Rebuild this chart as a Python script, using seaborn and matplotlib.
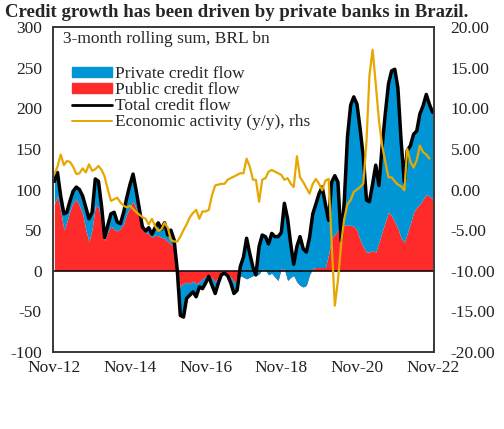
import pandas as pd
import matplotlib
matplotlib.use("Agg")
import matplotlib.pyplot as plt
import matplotlib.dates as mdates
from matplotlib.patches import Patch
from matplotlib.lines import Line2D
from matplotlib.ticker import FuncFormatter
import seaborn as sns

# monthly data, Nov-12 .. Nov-22 (BRL bn, 3-month rolling sum)
months = pd.date_range("2012-11-01", "2022-11-01", freq="MS")

total_flow = [110, 121, 92, 70, 72, 86, 98, 103, 100, 92,
              78, 64, 72, 113, 110, 78, 41, 56, 70, 72,
              60, 58, 72, 90, 106, 119, 98, 75, 54, 49,
              53, 45, 53, 59, 51, 59, 44, 50, 38, 0,
              -55, -57, -34, -30, -26, -32, -20, -22, -15, -7,
              -18, -28, -16, -5, -3, -6, -15, -28, -24, 5,
              17, 40, 21, 4, -5, 30, 44, 42, 33, 46,
              42, 42, 47, 83, 64, 32, 8, 30, 42, 27,
              23, 41, 70, 82, 95, 103, 82, 62, 109, 117,
              109, 37, 85, 165, 204, 214, 205, 175, 140, 87,
              85, 107, 130, 105, 152, 193, 230, 246, 248, 225,
              160, 109, 148, 154, 168, 172, 193, 203, 217, 205,
              195]

public_flow = [82, 92, 74, 50, 60, 74, 84, 88, 80, 70,
               50, 36, 52, 80, 78, 60, 37, 48, 55, 51,
               49, 52, 58, 70, 78, 86, 76, 64, 50, 47,
               46, 41, 44, 43, 41, 40, 36, 33, 31, 0,
               -20, -16, -14, -16, -13, -16, -14, -10, -7, -5,
               -9, -14, -8, -4, -2, -4, -8, -14, -12, -6,
               -8, -10, -8, -6, -6, -4, 2, 1, -5, -3,
               -8, -12, 3, 2, -12, -8, -6, -14, -18, -20,
               -18, -5, 3, 4, 4, 4, 4, 20, 40, 45,
               50, 54, 56, 56, 56, 55, 50, 38, 29, 23,
               23, 25, 23, 35, 48, 60, 72, 68, 60, 52,
               40, 35, 46, 58, 72, 78, 82, 88, 94, 92,
               88]

# economic activity y/y %, rhs (ends one month earlier)
activity = [1.9, 2.8, 4.3, 3.0, 3.5, 3.4, 2.8, 1.9, 2.0, 2.6,
            2.1, 3.1, 2.3, 2.5, 2.9, 2.4, 1.6, 0.0, -1.4, -1.2,
            -1.0, -1.6, -2.0, -2.2, -2.0, -2.4, -2.8, -3.1, -3.4, -3.6,
            -4.3, -3.6, -4.5, -5.1, -4.9, -4.1, -4.7, -6.2, -6.4, -6.4,
            -5.8, -5.0, -4.3, -3.4, -2.9, -2.5, -3.6, -2.7, -2.7, -2.5,
            -0.7, 0.5, 0.6, 0.7, 0.7, 1.2, 1.4, 1.6, 1.8, 2.0,
            2.0, 3.8, 2.8, 1.2, 1.2, -1.5, 1.2, 1.4, 2.2, 2.4,
            2.2, 2.0, 1.8, 1.2, 1.4, 0.7, 0.3, 4.1, 1.5, 0.9,
            0.2, -0.5, 0.7, 1.3, 0.7, -0.1, 1.1, 1.3, -6.5, -14.3,
            -11.2, -6.7, -3.6, -1.8, -1.3, -0.3, 0.0, 0.3, 0.7, 6.0,
            14.0, 17.2, 13.0, 8.5, 5.5, 3.4, 1.5, 1.5, 1.0, 0.6,
            0.4, -0.1, 5.0, 3.4, 2.7, 3.6, 5.4, 4.6, 4.3, 3.8]

df = pd.DataFrame({"date": months, "total": total_flow, "public": public_flow})
df["private"] = df["total"] - df["public"]
act = pd.DataFrame({"date": months[:len(activity)], "activity": activity})

BLUE = "#0096D6"
RED = "#FF2B2B"
ORANGE = "#E6A700"

sns.set_theme(style="white")
plt.rcParams["font.family"] = ["Liberation Serif", "DejaVu Serif"]
plt.rcParams["axes.unicode_minus"] = False

fig = plt.figure(figsize=(5.04, 4.29), dpi=100)
ax = fig.add_axes([0.105, 0.1795, 0.756, 0.7575])

# stacked areas: public at the bottom, private on top
ax.fill_between(df["date"], 0, df["public"], color=RED, lw=0)
ax.fill_between(df["date"], df["public"], df["total"], color=BLUE, lw=0)
ax.axhline(0, color="black", lw=1.1)
sns.lineplot(data=df, x="date", y="total", ax=ax, color="black", lw=2.5)

ax.set_ylim(-100, 300)
ax.set_yticks(range(-100, 301, 50))
ax.set_xlim(pd.Timestamp("2012-10-18"), pd.Timestamp("2022-11-14"))
ax.xaxis.set_major_locator(mdates.YearLocator(base=2, month=11, day=1))
ax.xaxis.set_major_formatter(mdates.DateFormatter("%b-%y"))
ax.set_xlabel("")
ax.set_ylabel("")

ax2 = ax.twinx()
sns.lineplot(data=act, x="date", y="activity", ax=ax2, color=ORANGE, lw=1.6)
ax2.set_ylim(-20, 20)
ax2.set_yticks(range(-20, 21, 5))
ax2.yaxis.set_major_formatter(FuncFormatter(lambda v, _: f"{v:.2f}"))
ax2.set_ylabel("")

for a in (ax, ax2):
    a.tick_params(length=0, labelsize=12.5, colors="#222222")
    for s in a.spines.values():
        s.set_color("#333333")
        s.set_linewidth(1.1)
ax.tick_params(axis="y", pad=8)
ax.tick_params(axis="x", pad=6)
ax2.tick_params(axis="y", pad=12)

ax.text(0.026, 0.962, "3-month rolling sum, BRL bn", transform=ax.transAxes,
        fontsize=12.5, va="center", ha="left")

handles = [Patch(color=BLUE), Patch(color=RED),
           Line2D([], [], color="black", lw=2.0), Line2D([], [], color=ORANGE, lw=1.4)]
labels = ["Private credit flow", "Public credit flow", "Total credit flow",
          "Economic activity (y/y), rhs"]
ax2.legend(handles, labels, loc="upper left", bbox_to_anchor=(0.05, 0.88),
           frameon=False, fontsize=12.5, borderpad=0, borderaxespad=0,
           handlelength=2.3, handleheight=0.45, handletextpad=0.2, labelspacing=0.0)

fig.text(0.01, 0.99, "Credit growth has been driven by private banks in Brazil.",
         fontsize=13.5, fontweight="bold", va="top", ha="left")

fig.savefig("out.png", dpi=100)
